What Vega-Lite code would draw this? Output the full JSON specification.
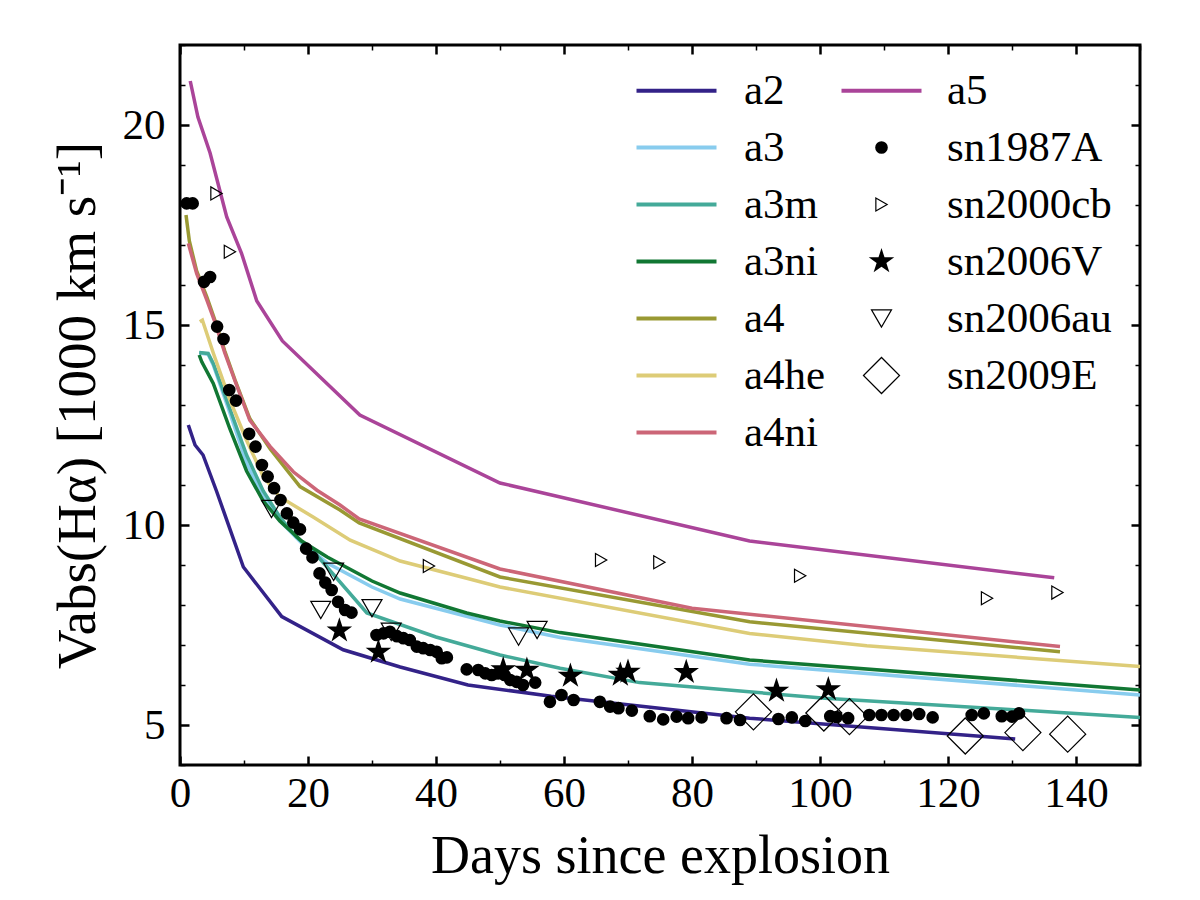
{
  "$schema": "https://vega.github.io/schema/vega-lite/v6.json",
  "width": 960,
  "height": 720,
  "autosize": {"type": "none"},
  "padding": {"left": 180, "top": 45, "right": 60, "bottom": 135},
  "background": "white",
  "config": {
    "view": {"stroke": "black", "strokeWidth": 3},
    "font": "Liberation Serif"
  },
  "datasets": {
    "lines": [
      {"series": "a2", "day": 1.3, "v": 12.5}, {"series": "a2", "day": 2.35, "v": 12.0}, {"series": "a2", "day": 3.6, "v": 11.75}, {"series": "a2", "day": 5.7, "v": 10.85}, {"series": "a2", "day": 9.9, "v": 8.95}, {"series": "a2", "day": 15.9, "v": 7.71}, {"series": "a2", "day": 25.5, "v": 6.88}, {"series": "a2", "day": 34.4, "v": 6.45}, {"series": "a2", "day": 45, "v": 6.0}, {"series": "a2", "day": 58, "v": 5.72}, {"series": "a2", "day": 89, "v": 5.17}, {"series": "a2", "day": 130.5, "v": 4.65},
      {"series": "a3", "day": 3.0, "v": 14.3}, {"series": "a3", "day": 4.4, "v": 14.27}, {"series": "a3", "day": 5.2, "v": 14.0}, {"series": "a3", "day": 7.8, "v": 12.8}, {"series": "a3", "day": 10.4, "v": 11.55}, {"series": "a3", "day": 13, "v": 10.7}, {"series": "a3", "day": 15.6, "v": 10.1}, {"series": "a3", "day": 19, "v": 9.55}, {"series": "a3", "day": 23, "v": 9.05}, {"series": "a3", "day": 30, "v": 8.45}, {"series": "a3", "day": 34.4, "v": 8.15}, {"series": "a3", "day": 50, "v": 7.5}, {"series": "a3", "day": 59.4, "v": 7.19}, {"series": "a3", "day": 89, "v": 6.52}, {"series": "a3", "day": 150, "v": 5.75},
      {"series": "a3m", "day": 3.0, "v": 14.31}, {"series": "a3m", "day": 4.4, "v": 14.29}, {"series": "a3m", "day": 5.2, "v": 14.04}, {"series": "a3m", "day": 7.8, "v": 12.9}, {"series": "a3m", "day": 10.4, "v": 11.75}, {"series": "a3m", "day": 13, "v": 10.85}, {"series": "a3m", "day": 15.6, "v": 10.2}, {"series": "a3m", "day": 18.2, "v": 9.7}, {"series": "a3m", "day": 20.8, "v": 9.35}, {"series": "a3m", "day": 29.2, "v": 7.8}, {"series": "a3m", "day": 40, "v": 7.2}, {"series": "a3m", "day": 50, "v": 6.75}, {"series": "a3m", "day": 59.4, "v": 6.42}, {"series": "a3m", "day": 71.8, "v": 6.06}, {"series": "a3m", "day": 100.8, "v": 5.67}, {"series": "a3m", "day": 150, "v": 5.19},
      {"series": "a3ni", "day": 3.0, "v": 14.25}, {"series": "a3ni", "day": 3.4, "v": 14.08}, {"series": "a3ni", "day": 5.2, "v": 13.54}, {"series": "a3ni", "day": 7.8, "v": 12.4}, {"series": "a3ni", "day": 10.4, "v": 11.35}, {"series": "a3ni", "day": 13, "v": 10.6}, {"series": "a3ni", "day": 15.6, "v": 10.1}, {"series": "a3ni", "day": 19, "v": 9.6}, {"series": "a3ni", "day": 23, "v": 9.2}, {"series": "a3ni", "day": 30, "v": 8.6}, {"series": "a3ni", "day": 34.4, "v": 8.3}, {"series": "a3ni", "day": 44.8, "v": 7.8}, {"series": "a3ni", "day": 50, "v": 7.6}, {"series": "a3ni", "day": 59.4, "v": 7.31}, {"series": "a3ni", "day": 89, "v": 6.625}, {"series": "a3ni", "day": 150, "v": 5.875},
      {"series": "a4", "day": 0.94, "v": 17.75}, {"series": "a4", "day": 1.46, "v": 17.1}, {"series": "a4", "day": 2.6, "v": 16.35}, {"series": "a4", "day": 4.2, "v": 15.7}, {"series": "a4", "day": 5.5, "v": 15.1}, {"series": "a4", "day": 7, "v": 14.35}, {"series": "a4", "day": 8.6, "v": 13.62}, {"series": "a4", "day": 10.9, "v": 12.66}, {"series": "a4", "day": 14.1, "v": 11.9}, {"series": "a4", "day": 18.75, "v": 10.96}, {"series": "a4", "day": 25, "v": 10.375}, {"series": "a4", "day": 28, "v": 10.05}, {"series": "a4", "day": 50, "v": 8.7}, {"series": "a4", "day": 89, "v": 7.58}, {"series": "a4", "day": 137.5, "v": 6.83},
      {"series": "a4he", "day": 3.1, "v": 15.08}, {"series": "a4he", "day": 3.5, "v": 15.12}, {"series": "a4he", "day": 5.2, "v": 14.3}, {"series": "a4he", "day": 7.8, "v": 13.12}, {"series": "a4he", "day": 10.4, "v": 12.12}, {"series": "a4he", "day": 13, "v": 11.21}, {"series": "a4he", "day": 15.6, "v": 10.7}, {"series": "a4he", "day": 20.8, "v": 10.2}, {"series": "a4he", "day": 26.6, "v": 9.62}, {"series": "a4he", "day": 34.4, "v": 9.1}, {"series": "a4he", "day": 44.8, "v": 8.67}, {"series": "a4he", "day": 50, "v": 8.45}, {"series": "a4he", "day": 89, "v": 7.29}, {"series": "a4he", "day": 107.3, "v": 6.98}, {"series": "a4he", "day": 150, "v": 6.46},
      {"series": "a4ni", "day": 1.3, "v": 17.04}, {"series": "a4ni", "day": 2.6, "v": 16.29}, {"series": "a4ni", "day": 4.2, "v": 15.62}, {"series": "a4ni", "day": 5.5, "v": 15.05}, {"series": "a4ni", "day": 7, "v": 14.3}, {"series": "a4ni", "day": 8.6, "v": 13.6}, {"series": "a4ni", "day": 10.9, "v": 12.62}, {"series": "a4ni", "day": 14.1, "v": 11.96}, {"series": "a4ni", "day": 17.7, "v": 11.33}, {"series": "a4ni", "day": 21.4, "v": 10.87}, {"series": "a4ni", "day": 25, "v": 10.5}, {"series": "a4ni", "day": 28, "v": 10.15}, {"series": "a4ni", "day": 50, "v": 8.9}, {"series": "a4ni", "day": 80, "v": 7.92}, {"series": "a4ni", "day": 137.5, "v": 6.96},
      {"series": "a5", "day": 1.6, "v": 21.1}, {"series": "a5", "day": 2.8, "v": 20.2}, {"series": "a5", "day": 4.7, "v": 19.3}, {"series": "a5", "day": 7.3, "v": 17.7}, {"series": "a5", "day": 9.6, "v": 16.8}, {"series": "a5", "day": 12, "v": 15.6}, {"series": "a5", "day": 16, "v": 14.6}, {"series": "a5", "day": 28.1, "v": 12.75}, {"series": "a5", "day": 50, "v": 11.05}, {"series": "a5", "day": 89, "v": 9.6}, {"series": "a5", "day": 136.6, "v": 8.68}
    ],
    "pts": [
      {"series": "sn1987A", "day": 1.04, "v": 18.04}, {"series": "sn1987A", "day": 1.98, "v": 18.04}, {"series": "sn1987A", "day": 3.75, "v": 16.08}, {"series": "sn1987A", "day": 4.7, "v": 16.2}, {"series": "sn1987A", "day": 5.8, "v": 14.96}, {"series": "sn1987A", "day": 6.8, "v": 14.65}, {"series": "sn1987A", "day": 7.7, "v": 13.375}, {"series": "sn1987A", "day": 8.75, "v": 13.11}, {"series": "sn1987A", "day": 10.8, "v": 12.28}, {"series": "sn1987A", "day": 11.8, "v": 11.96}, {"series": "sn1987A", "day": 12.8, "v": 11.5}, {"series": "sn1987A", "day": 13.7, "v": 11.21}, {"series": "sn1987A", "day": 14.7, "v": 10.92}, {"series": "sn1987A", "day": 15.7, "v": 10.625}, {"series": "sn1987A", "day": 16.7, "v": 10.29}, {"series": "sn1987A", "day": 17.7, "v": 10.06}, {"series": "sn1987A", "day": 18.75, "v": 9.89}, {"series": "sn1987A", "day": 19.7, "v": 9.41}, {"series": "sn1987A", "day": 20.7, "v": 9.19}, {"series": "sn1987A", "day": 21.8, "v": 8.79}, {"series": "sn1987A", "day": 22.7, "v": 8.56}, {"series": "sn1987A", "day": 23.7, "v": 8.375}, {"series": "sn1987A", "day": 24.7, "v": 8.08}, {"series": "sn1987A", "day": 25.8, "v": 7.875}, {"series": "sn1987A", "day": 26.8, "v": 7.81}, {"series": "sn1987A", "day": 30.7, "v": 7.25}, {"series": "sn1987A", "day": 31.8, "v": 7.29}, {"series": "sn1987A", "day": 32.8, "v": 7.33}, {"series": "sn1987A", "day": 33.9, "v": 7.22}, {"series": "sn1987A", "day": 34.9, "v": 7.17}, {"series": "sn1987A", "day": 35.9, "v": 7.125}, {"series": "sn1987A", "day": 37, "v": 6.96}, {"series": "sn1987A", "day": 38, "v": 6.92}, {"series": "sn1987A", "day": 39.1, "v": 6.875}, {"series": "sn1987A", "day": 40.1, "v": 6.83}, {"series": "sn1987A", "day": 40.9, "v": 6.67}, {"series": "sn1987A", "day": 41.7, "v": 6.69}, {"series": "sn1987A", "day": 44.8, "v": 6.39}, {"series": "sn1987A", "day": 46.6, "v": 6.375}, {"series": "sn1987A", "day": 47.7, "v": 6.29}, {"series": "sn1987A", "day": 48.7, "v": 6.25}, {"series": "sn1987A", "day": 49.7, "v": 6.29}, {"series": "sn1987A", "day": 50.7, "v": 6.25}, {"series": "sn1987A", "day": 51.6, "v": 6.125}, {"series": "sn1987A", "day": 52.6, "v": 6.08}, {"series": "sn1987A", "day": 53.6, "v": 6.0}, {"series": "sn1987A", "day": 55.5, "v": 6.06}, {"series": "sn1987A", "day": 57.8, "v": 5.58}, {"series": "sn1987A", "day": 59.6, "v": 5.75}, {"series": "sn1987A", "day": 61.5, "v": 5.625}, {"series": "sn1987A", "day": 65.6, "v": 5.58}, {"series": "sn1987A", "day": 67.2, "v": 5.46}, {"series": "sn1987A", "day": 68.5, "v": 5.42}, {"series": "sn1987A", "day": 70.6, "v": 5.36}, {"series": "sn1987A", "day": 73.4, "v": 5.22}, {"series": "sn1987A", "day": 75.5, "v": 5.14}, {"series": "sn1987A", "day": 77.6, "v": 5.21}, {"series": "sn1987A", "day": 79.4, "v": 5.17}, {"series": "sn1987A", "day": 81.5, "v": 5.19}, {"series": "sn1987A", "day": 85.4, "v": 5.17}, {"series": "sn1987A", "day": 87.5, "v": 5.125}, {"series": "sn1987A", "day": 93.5, "v": 5.15}, {"series": "sn1987A", "day": 95.6, "v": 5.19}, {"series": "sn1987A", "day": 97.7, "v": 5.1}, {"series": "sn1987A", "day": 101.6, "v": 5.22}, {"series": "sn1987A", "day": 102.6, "v": 5.2}, {"series": "sn1987A", "day": 104.4, "v": 5.17}, {"series": "sn1987A", "day": 107.7, "v": 5.25}, {"series": "sn1987A", "day": 109.6, "v": 5.25}, {"series": "sn1987A", "day": 111.5, "v": 5.25}, {"series": "sn1987A", "day": 113.5, "v": 5.25}, {"series": "sn1987A", "day": 115.5, "v": 5.275}, {"series": "sn1987A", "day": 117.6, "v": 5.19}, {"series": "sn1987A", "day": 123.7, "v": 5.25}, {"series": "sn1987A", "day": 125.6, "v": 5.29}, {"series": "sn1987A", "day": 128.4, "v": 5.22}, {"series": "sn1987A", "day": 130, "v": 5.21}, {"series": "sn1987A", "day": 131.1, "v": 5.29},
      {"series": "sn2000cb", "day": 5.7, "v": 18.29}, {"series": "sn2000cb", "day": 7.8, "v": 16.83}, {"series": "sn2000cb", "day": 38.9, "v": 8.975}, {"series": "sn2000cb", "day": 65.8, "v": 9.125}, {"series": "sn2000cb", "day": 74.9, "v": 9.07}, {"series": "sn2000cb", "day": 96.9, "v": 8.73}, {"series": "sn2000cb", "day": 126.1, "v": 8.17}, {"series": "sn2000cb", "day": 137.1, "v": 8.31},
      {"series": "sn2006V", "day": 24.9, "v": 7.36}, {"series": "sn2006V", "day": 31.0, "v": 6.83}, {"series": "sn2006V", "day": 50.5, "v": 6.39}, {"series": "sn2006V", "day": 54.2, "v": 6.375}, {"series": "sn2006V", "day": 61, "v": 6.23}, {"series": "sn2006V", "day": 68.8, "v": 6.25}, {"series": "sn2006V", "day": 70.0, "v": 6.33}, {"series": "sn2006V", "day": 79.1, "v": 6.32}, {"series": "sn2006V", "day": 93.2, "v": 5.85}, {"series": "sn2006V", "day": 101.3, "v": 5.89},
      {"series": "sn2006au", "day": 14.3, "v": 10.4}, {"series": "sn2006au", "day": 22, "v": 7.875}, {"series": "sn2006au", "day": 24, "v": 8.83}, {"series": "sn2006au", "day": 30, "v": 7.92}, {"series": "sn2006au", "day": 33, "v": 7.33}, {"series": "sn2006au", "day": 52.9, "v": 7.21}, {"series": "sn2006au", "day": 55.8, "v": 7.375},
      {"series": "sn2009E", "day": 89.6, "v": 5.33}, {"series": "sn2009E", "day": 100.6, "v": 5.3}, {"series": "sn2009E", "day": 104.6, "v": 5.21}, {"series": "sn2009E", "day": 122.7, "v": 4.725}, {"series": "sn2009E", "day": 131.7, "v": 4.81}, {"series": "sn2009E", "day": 138.7, "v": 4.77}
    ]
  },
  "layer": [
    {
      "data": {"name": "lines"},
      "mark": {"type": "line", "strokeWidth": 3.5},
      "encoding": {
        "x": {
          "field": "day", "type": "quantitative",
          "scale": {"domain": [0, 150], "nice": false, "zero": false},
          "axis": {
            "orient": "bottom",
            "values": [0, 10, 20, 30, 40, 50, 60, 70, 80, 90, 100, 110, 120, 130, 140, 150],
            "labelExpr": "datum.value % 20 === 0 && datum.value < 150 ? datum.label : ''",
            "tickSize": {"condition": {"test": "datum.value % 20 === 0", "value": -9}, "value": -5},
            "tickWidth": {"condition": {"test": "datum.value % 20 === 0", "value": 2.5}, "value": 1.5},
            "tickColor": "black",
            "domain": false, "grid": false,
            "labelFont": "Liberation Serif", "labelFontSize": 43, "labelColor": "black",
            "labelPadding": 16, "labelFlush": false, "labelOverlap": false,
            "title": "Days since explosion",
            "titleFont": "Liberation Serif", "titleFontSize": 54, "titleFontWeight": "normal", "titleColor": "black",
            "titlePadding": 10
          }
        },
        "y": {
          "field": "v", "type": "quantitative",
          "scale": {"domain": [4, 22], "nice": false, "zero": false},
          "axis": {
            "orient": "left",
            "values": [4, 5, 6, 7, 8, 9, 10, 11, 12, 13, 14, 15, 16, 17, 18, 19, 20, 21, 22],
            "labelExpr": "datum.value % 5 === 0 ? datum.label : ''",
            "tickSize": {"condition": {"test": "datum.value % 5 === 0", "value": -9}, "value": -5},
            "tickWidth": {"condition": {"test": "datum.value % 5 === 0", "value": 2.5}, "value": 1.5},
            "tickColor": "black",
            "domain": false, "grid": false,
            "labelFont": "Liberation Serif", "labelFontSize": 43, "labelColor": "black",
            "labelPadding": 24, "labelFlush": false, "labelOverlap": false,
            "title": "Vabs(Hα) [1000 km s⁻¹]",
            "titleFont": "Liberation Serif", "titleFontSize": 55, "titleFontWeight": "normal", "titleColor": "black",
            "titlePadding": 16
          }
        },
        "color": {
          "field": "series", "type": "nominal",
          "scale": {
            "domain": ["a2", "a3", "a3m", "a3ni", "a4", "a4he", "a4ni", "a5", "sn1987A", "sn2000cb", "sn2006V", "sn2006au", "sn2009E"],
            "range": ["#332288", "#88CCEE", "#44AA99", "#117733", "#999933", "#DDCC77", "#CC6677", "#AA4499", "black", "black", "black", "black", "black"]
          },
          "legend": {
            "orient": "none", "legendX": 455, "legendY": 24,
            "direction": "vertical", "columns": 2,
            "title": null, "padding": 0,
            "symbolType": "stroke", "symbolSize": 6400, "symbolStrokeWidth": 4,
            "symbolOffset": 20,
            "labelFont": "Liberation Serif", "labelFontSize": 43, "labelColor": "black",
            "labelOffset": 56, "rowPadding": 13, "columnPadding": 7, "labelLimit": 0,
            "encode": {
              "symbols": {
                "update": {
                  "shape": {"signal": "datum.value === 'sn1987A' ? 'circle' : datum.value === 'sn2000cb' ? 'triangle-right' : datum.value === 'sn2006V' ? 'M0,-1L0.2245,-0.309L0.951,-0.309L0.363,0.118L0.588,0.809L0,0.382L-0.588,0.809L-0.363,0.118L-0.951,-0.309L-0.2245,-0.309Z' : datum.value === 'sn2006au' ? 'triangle-down' : datum.value === 'sn2009E' ? 'diamond' : 'stroke'"},
                  "size": {"signal": "datum.value === 'sn1987A' ? 160 : datum.value === 'sn2000cb' ? 170 : datum.value === 'sn2006V' ? 720 : datum.value === 'sn2006au' ? 400 : datum.value === 'sn2009E' ? 1300 : 6400"},
                  "fill": {"signal": "(datum.value === 'sn1987A' || datum.value === 'sn2006V') ? 'black' : 'transparent'"},
                  "stroke": {"signal": "indexof(['sn1987A','sn2000cb','sn2006V','sn2006au','sn2009E'], datum.value) >= 0 ? 'black' : scale('color', datum.value)"},
                  "strokeWidth": {"signal": "indexof(['sn1987A','sn2006V'], datum.value) >= 0 ? 0 : indexof(['sn2000cb','sn2006au','sn2009E'], datum.value) >= 0 ? 1.2 : 4"},
                  "opacity": {"value": 1}
                }
              },
              "labels": {
                "update": {
                  "dx": {"signal": "indexof(['a5','sn1987A','sn2000cb','sn2006V','sn2006au','sn2009E'], datum.value) >= 0 ? -12 : -10"}
                }
              }
            }
          }
        }
      }
    },
    {
      "data": {"name": "pts"},
      "transform": [{"filter": "datum.series === 'sn1987A'"}],
      "mark": {"type": "point", "shape": "circle", "filled": true, "color": "black", "size": 160, "opacity": 1},
      "encoding": {
        "x": {
          "field": "day", "type": "quantitative",
          "axis": {
            "orient": "top",
            "values": [0, 10, 20, 30, 40, 50, 60, 70, 80, 90, 100, 110, 120, 130, 140, 150],
            "labels": false, "title": null, "domain": false, "grid": false, "tickColor": "black",
            "tickSize": {"condition": {"test": "datum.value % 20 === 0", "value": -9}, "value": -5},
            "tickWidth": {"condition": {"test": "datum.value % 20 === 0", "value": 2.5}, "value": 1.5}
          }
        },
        "y": {
          "field": "v", "type": "quantitative",
          "axis": {
            "orient": "right",
            "values": [4, 5, 6, 7, 8, 9, 10, 11, 12, 13, 14, 15, 16, 17, 18, 19, 20, 21, 22],
            "labels": false, "title": null, "domain": false, "grid": false, "tickColor": "black",
            "tickSize": {"condition": {"test": "datum.value % 5 === 0", "value": -9}, "value": -5},
            "tickWidth": {"condition": {"test": "datum.value % 5 === 0", "value": 2.5}, "value": 1.5}
          }
        }
      }
    },
    {
      "data": {"name": "pts"},
      "transform": [{"filter": "datum.series === 'sn2000cb'"}],
      "mark": {"type": "point", "shape": "triangle-right", "filled": false, "stroke": "black", "strokeWidth": 1.2, "size": 170, "opacity": 1},
      "encoding": {
        "x": {"field": "day", "type": "quantitative", "axis": null},
        "y": {"field": "v", "type": "quantitative", "axis": null}
      }
    },
    {
      "data": {"name": "pts"},
      "transform": [{"filter": "datum.series === 'sn2006V'"}],
      "mark": {"type": "point", "shape": "M0,-1L0.2245,-0.309L0.951,-0.309L0.363,0.118L0.588,0.809L0,0.382L-0.588,0.809L-0.363,0.118L-0.951,-0.309L-0.2245,-0.309Z", "filled": true, "color": "black", "size": 720, "opacity": 1},
      "encoding": {
        "x": {"field": "day", "type": "quantitative", "axis": null},
        "y": {"field": "v", "type": "quantitative", "axis": null}
      }
    },
    {
      "data": {"name": "pts"},
      "transform": [{"filter": "datum.series === 'sn2006au'"}],
      "mark": {"type": "point", "shape": "triangle-down", "filled": false, "stroke": "black", "strokeWidth": 1.2, "size": 400, "opacity": 1},
      "encoding": {
        "x": {"field": "day", "type": "quantitative", "axis": null},
        "y": {"field": "v", "type": "quantitative", "axis": null}
      }
    },
    {
      "data": {"name": "pts"},
      "transform": [{"filter": "datum.series === 'sn2009E'"}],
      "mark": {"type": "point", "shape": "diamond", "filled": false, "stroke": "black", "strokeWidth": 1.2, "size": 1300, "opacity": 1},
      "encoding": {
        "x": {"field": "day", "type": "quantitative", "axis": null},
        "y": {"field": "v", "type": "quantitative", "axis": null}
      }
    }
  ],
  "resolve": {"axis": {"x": "independent", "y": "independent"}}
}
